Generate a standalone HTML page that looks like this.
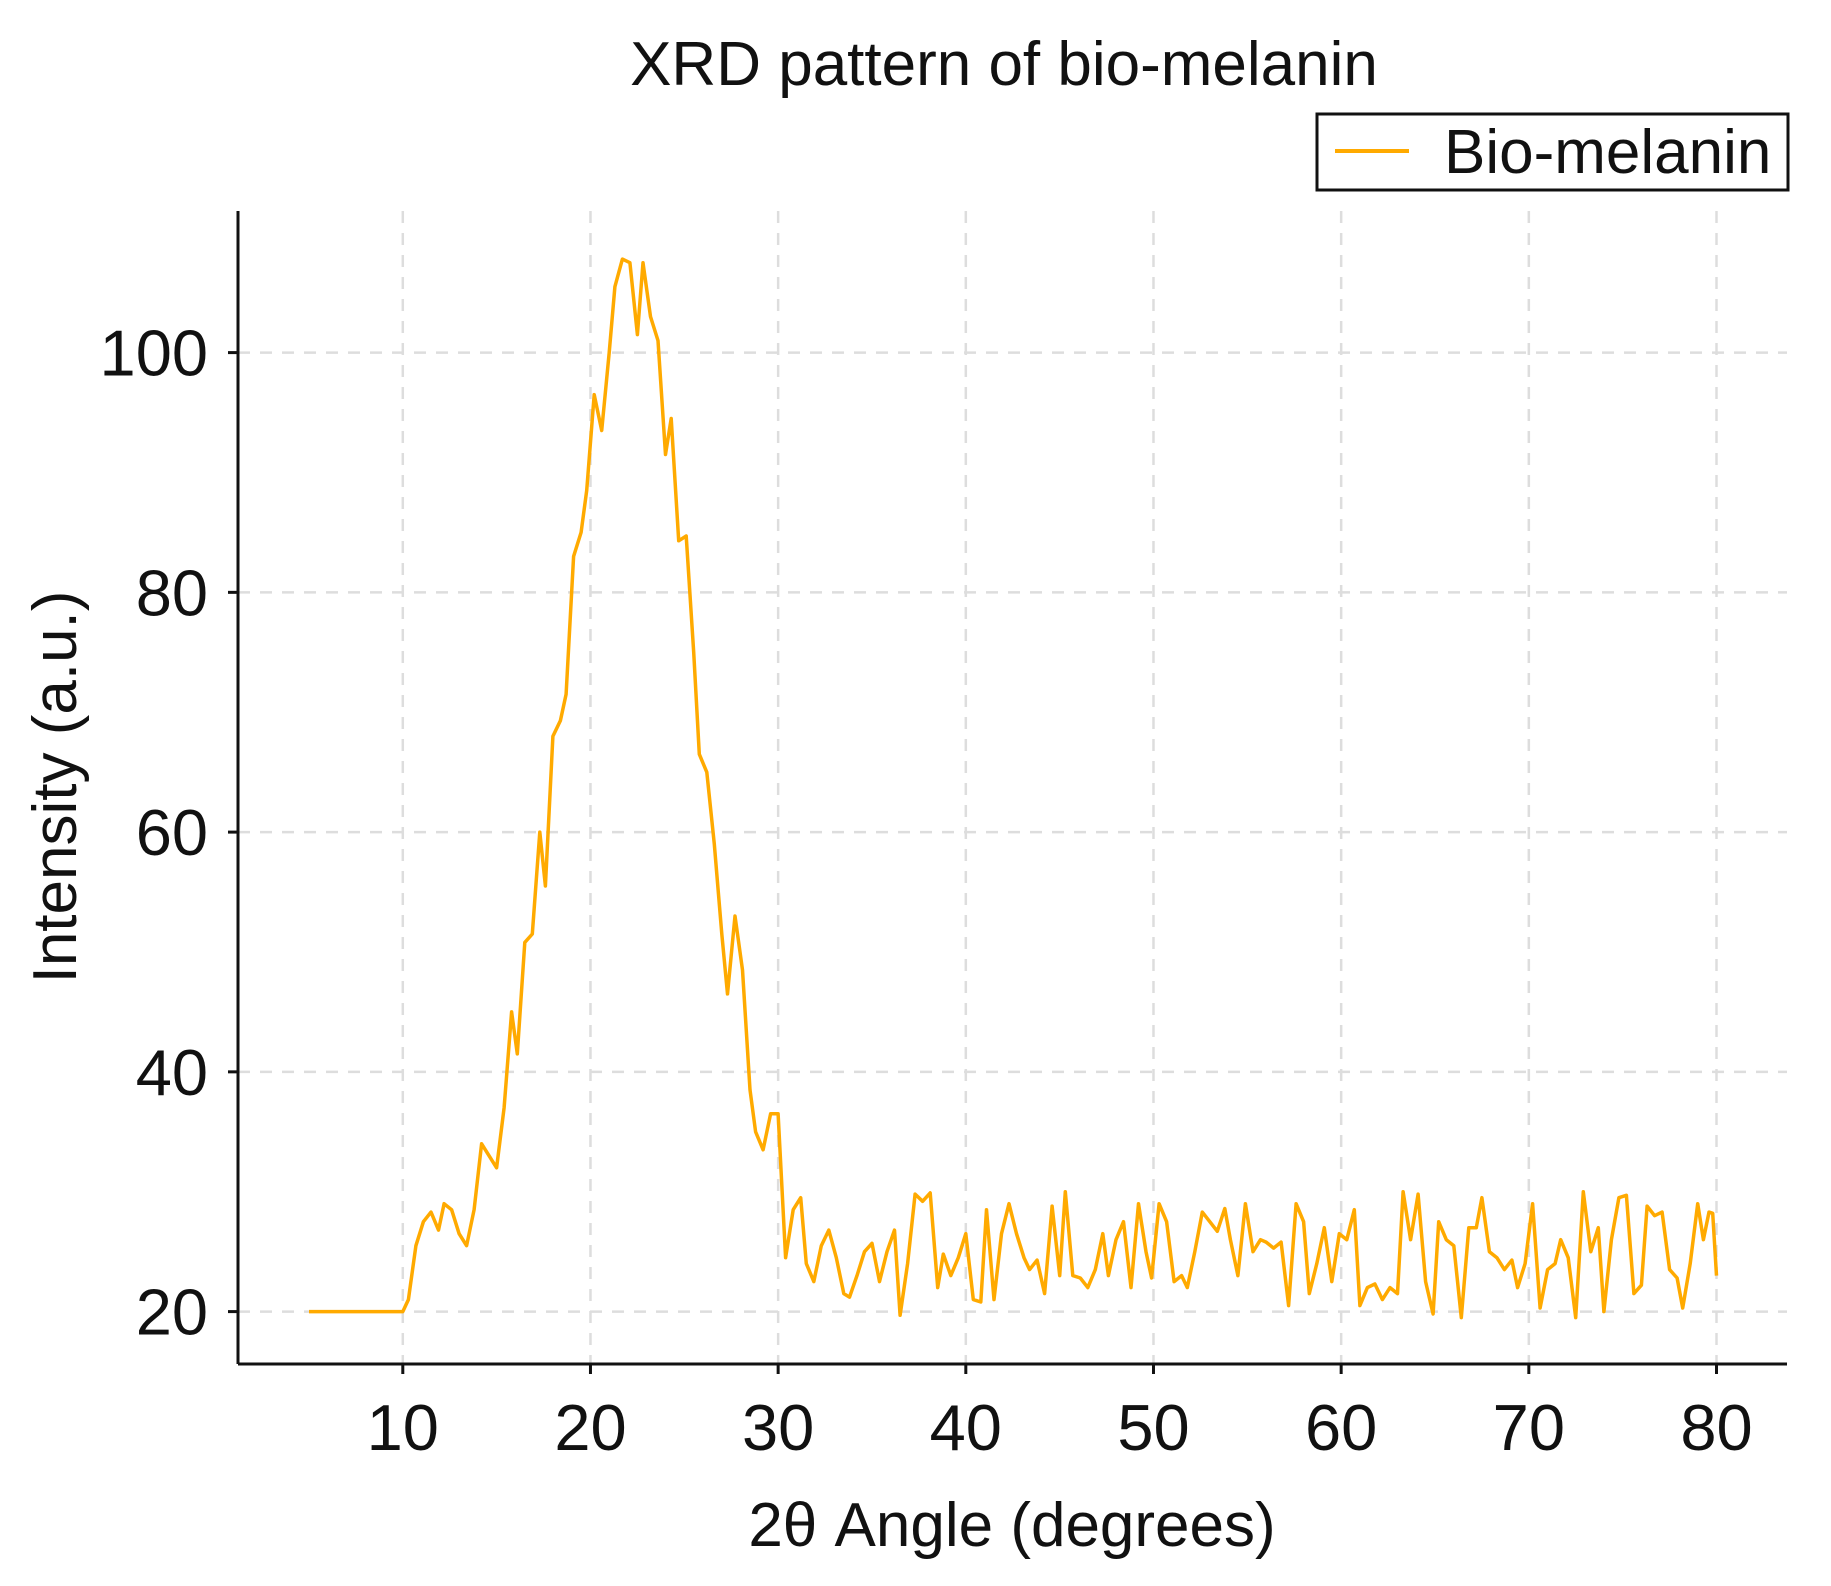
<!DOCTYPE html>
<html><head><meta charset="utf-8"><style>
html,body{margin:0;padding:0;background:#fff;}
svg{display:block;font-family:"Liberation Sans",sans-serif;}
</style></head><body>
<svg id="chart" width="1831" height="1586" viewBox="0 0 1831 1586" xmlns="http://www.w3.org/2000/svg">
<text x="1004" y="85" font-size="62" text-anchor="middle" fill="#111">XRD pattern of bio-melanin</text>
<g id="grid"></g>
<g id="series"></g>
<g id="axes"></g>
<text x="1012" y="1546" font-size="62" text-anchor="middle" fill="#111">2θ Angle (degrees)</text>
<text transform="translate(76,787) rotate(-90)" font-size="62" text-anchor="middle" fill="#111">Intensity (a.u.)</text>
<g>
<rect x="1317" y="114" width="471" height="76" fill="#fff" stroke="#111" stroke-width="3"/>
<line x1="1335" y1="151" x2="1409" y2="151" stroke="#FFAA00" stroke-width="4"/>
<text x="1444" y="173" font-size="62" fill="#111">Bio-melanin</text>
</g>
</svg>
<script>
const xTicks=[10,20,30,40,50,60,70,80];
const yTicks=[20,40,60,80,100];
const xData=[5,10,10.3,10.7,11.1,11.5,11.9,12.2,12.6,13,13.4,13.8,14.2,14.6,15,15.4,15.8,16.1,16.5,16.9,17.3,17.6,18,18.4,18.7,19.1,19.5,19.8,20.2,20.6,21,21.3,21.7,22.1,22.5,22.8,23.2,23.6,24,24.3,24.7,25.1,25.5,25.8,26.2,26.6,27,27.3,27.7,28.1,28.5,28.8,29.2,29.6,30,30.4,30.8,31.2,31.5,31.9,32.3,32.7,33.1,33.5,33.8,34.2,34.6,35,35.4,35.8,36.2,36.5,36.9,37.3,37.7,38.1,38.5,38.8,39.2,39.6,40,40.4,40.8,41.1,41.5,41.9,42.3,42.7,43.1,43.4,43.8,44.2,44.6,45,45.3,45.7,46.1,46.5,46.9,47.3,47.6,48,48.4,48.8,49.2,49.6,49.9,50.3,50.7,51.1,51.5,51.8,52.2,52.6,53,53.4,53.8,54.1,54.5,54.9,55.3,55.7,56,56.4,56.8,57.2,57.6,58,58.3,58.7,59.1,59.5,59.9,60.3,60.7,61,61.4,61.8,62.2,62.6,63,63.3,63.7,64.1,64.5,64.9,65.2,65.6,66,66.4,66.8,67.2,67.5,67.9,68.3,68.7,69.1,69.4,69.8,70.2,70.6,71,71.4,71.7,72.1,72.5,72.9,73.3,73.7,74,74.4,74.8,75.2,75.6,76,76.3,76.7,77.1,77.5,77.9,78.2,78.6,79,79.3,79.6,79.8,80];
const yData=[20,20,21,25.5,27.5,28.3,26.8,29,28.5,26.5,25.5,28.5,34,33,32,37,45,41.5,50.8,51.5,60,55.5,68,69.3,71.5,83,85,88.5,96.5,93.5,100,105.5,107.8,107.5,101.5,107.5,103,101,91.5,94.5,84.3,84.7,75,66.5,65,59,51.5,46.5,53,48.5,38.5,35,33.5,36.5,36.5,24.5,28.5,29.5,24,22.5,25.5,26.8,24.5,21.5,21.2,23,25,25.7,22.5,25,26.8,19.7,24,29.8,29.2,29.9,22,24.8,23,24.5,26.5,21,20.8,28.5,21,26.5,29,26.5,24.5,23.5,24.3,21.5,28.8,23,30,23,22.8,22,23.5,26.5,23,26,27.5,22,29,25,22.8,29,27.5,22.5,23,22,25,28.3,27.5,26.7,28.6,26,23,29,25,26,25.8,25.3,25.8,20.5,29,27.5,21.5,24,27,22.5,26.5,26,28.5,20.5,22,22.3,21,22,21.5,30,26,29.8,22.5,19.8,27.5,26,25.5,19.5,27,27,29.5,25,24.5,23.5,24.3,22,24,29,20.3,23.5,24,26,24.5,19.5,30,25,27,20,26,29.5,29.7,21.5,22.2,28.8,28,28.3,23.5,22.8,20.3,24,29,26,28.3,28.2,23,25];
const NS='http://www.w3.org/2000/svg';
const L=238,R=1787,T=211,B=1364;
function sx(v){return 402.8+(v-10)*(1716.5-402.8)/70;}
function sy(v){return 1311.6-(v-20)*(1311.6-352.6)/80;}
function mk(tag,attrs,parent){const e=document.createElementNS(NS,tag);for(const k in attrs)e.setAttribute(k,attrs[k]);parent.appendChild(e);return e;}
const grid=document.getElementById('grid'),axes=document.getElementById('axes'),series=document.getElementById('series');
xTicks.forEach(t=>{
  const g=mk('line',{x1:sx(t),x2:sx(t),y1:T,y2:B,stroke:'#ddd','stroke-width':2.5,'stroke-dasharray':'12 10'},grid);
  
  
  const tk=mk('line',{x1:sx(t),x2:sx(t),y1:B,y2:B+10,stroke:'#111','stroke-width':3},axes);
  
  
  const tx=mk('text',{x:sx(t),y:B+86,'font-size':65,'text-anchor':'middle',fill:'#111'},axes);
  tx.textContent=t;
  
  
});
yTicks.forEach(t=>{
  const g=mk('line',{x1:L,x2:R,y1:sy(t),y2:sy(t),stroke:'#ddd','stroke-width':2.5,'stroke-dasharray':'12 10'},grid);
  
  
  const tk=mk('line',{x1:L-10,x2:L,y1:sy(t),y2:sy(t),stroke:'#111','stroke-width':3},axes);
  
  
  const tx=mk('text',{x:L-30,y:sy(t)+23,'font-size':65,'text-anchor':'end',fill:'#111'},axes);
  tx.textContent=t;
  
  
});
const xa=mk('line',{x1:L,x2:R,y1:B,y2:B,stroke:'#111','stroke-width':3},axes);


const ya=mk('line',{x1:L,x2:L,y1:T,y2:B,stroke:'#111','stroke-width':3},axes);


const pts=xData.map((x,i)=>sx(x).toFixed(1)+','+sy(yData[i]).toFixed(1)).join(' ');
const pl=mk('polyline',{points:pts,fill:'none',stroke:'#FFAA00','stroke-width':3.5,'stroke-linejoin':'round'},series);


</script>
</body></html>
